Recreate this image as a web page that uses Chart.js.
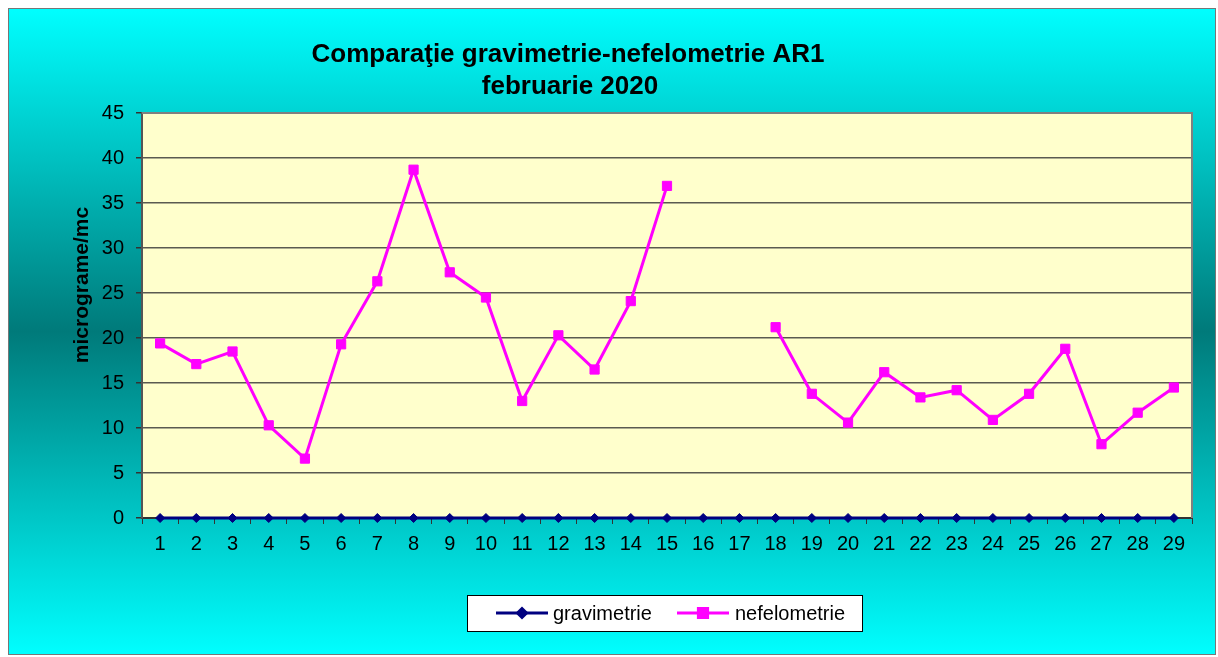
<!DOCTYPE html>
<html lang="ro">
<head>
<meta charset="UTF-8">
<title>Comparatie gravimetrie-nefelometrie AR1</title>
<script src="https://cdn.jsdelivr.net/npm/chart.js"></script>
<style>
    body { margin: 0; background: #fff; }
</style>
</head>
<body>
<canvas id="myChart" width="1218" height="657"></canvas>
<script>
// data
const days = ['1', '2', '3', '4', '5', '6', '7', '8', '9', '10', '11', '12', '13', '14', '15',
    '16', '17', '18', '19', '20', '21', '22', '23', '24', '25', '26', '27', '28', '29'];
const gravimetrie = [0, 0, 0, 0, 0, 0, 0, 0, 0, 0, 0, 0, 0, 0, 0,
    0, 0, 0, 0, 0, 0, 0, 0, 0, 0, 0, 0, 0, 0];
const nefelometrie = [19.4, 17.1, 18.5, 10.3, 6.6, 19.3, 26.3, 38.7, 27.3, 24.5, 13.0, 20.3, 16.5, 24.1, 36.9,
    null, null, 21.2, 13.8, 10.6, 16.2, 13.4, 14.2, 10.9, 13.8, 18.8, 8.2, 11.7, 14.5];
const yTicks = [0, 5, 10, 15, 20, 25, 30, 35, 40, 45];
const titleLines = ['Comparaţie gravimetrie-nefelometrie AR1', 'februarie 2020'];
const yTitle = 'micrograme/mc';

const FONT = '"Liberation Sans", Arial, sans-serif';

// background, frame, plot area, title, axis title and boxed legend
const excelLook = {
    id: 'excelLook',
    beforeDraw(chart) {
        const ctx = chart.ctx, a = chart.chartArea;
        const W = chart.width, H = chart.height;
        ctx.save();
        ctx.fillStyle = '#fff';
        ctx.fillRect(0, 0, W, H);
        let g = ctx.createLinearGradient(0, 8, 0, 655);
        g.addColorStop(0, '#00ffff');
        g.addColorStop(0.5, '#007a7a');
        g.addColorStop(1, '#00ffff');
        ctx.fillStyle = g;
        ctx.fillRect(8, 8, 1208, 647);
        ctx.strokeStyle = '#777';
        ctx.lineWidth = 1;
        ctx.strokeRect(8.5, 8.5, 1207, 646);
        ctx.fillStyle = '#ffffcc';
        ctx.fillRect(a.left, a.top, a.right - a.left, a.bottom - a.top);
        ctx.restore();
    },
    beforeDatasetsDraw(chart) {
        const ctx = chart.ctx, a = chart.chartArea;
        ctx.save();
        ctx.strokeStyle = '#808080';
        ctx.lineWidth = 2;
        ctx.beginPath();
        ctx.moveTo(a.left, a.top);
        ctx.lineTo(a.right, a.top);
        ctx.lineTo(a.right, a.bottom);
        ctx.stroke();
        ctx.restore();
    },
    afterDraw(chart) {
        const ctx = chart.ctx;
        ctx.save();
        ctx.fillStyle = '#000';
        ctx.textAlign = 'center';
        ctx.textBaseline = 'middle';
        ctx.font = 'bold 26px ' + FONT;
        ctx.fillText(titleLines[0], 568, 55);
        ctx.fillText(titleLines[1], 570, 87);

        ctx.translate(82, 285);
        ctx.rotate(-Math.PI / 2);
        ctx.font = 'bold 21px ' + FONT;
        ctx.fillText(yTitle, 0, 0);
        ctx.restore();

        // legend
        ctx.save();
        ctx.fillStyle = '#fff';
        ctx.fillRect(467, 595, 395, 36);
        ctx.strokeStyle = '#000';
        ctx.lineWidth = 1;
        ctx.strokeRect(467.5, 595.5, 395, 36);
        const items = [[496, 553], [677, 735]];
        chart.data.datasets.forEach((ds, i) => {
            const [lx, tx] = items[i];
            const y = 613;
            ctx.strokeStyle = ds.borderColor;
            ctx.lineWidth = 3;
            ctx.beginPath();
            ctx.moveTo(lx, y);
            ctx.lineTo(lx + 52, y);
            ctx.stroke();
            Chart.helpers.drawPoint(ctx, {
                pointStyle: ds.pointStyle, radius: ds.pointRadius,
                borderWidth: 1
            }, lx + 26, y);
            ctx.fillStyle = ds.pointBackgroundColor;
            ctx.fill();
            ctx.fillStyle = '#000';
            ctx.font = '20px ' + FONT;
            ctx.textAlign = 'left';
            ctx.textBaseline = 'middle';
            ctx.fillText(ds.label, tx, y + 1);
        });
        ctx.restore();
    }
};

new Chart('myChart', {
    type: 'line',
    data: {
        labels: days,
        datasets: [
            {
                label: 'gravimetrie',
                data: gravimetrie,
                borderColor: '#000080',
                backgroundColor: '#000080',
                pointBackgroundColor: '#000080',
                pointBorderColor: '#000080',
                borderWidth: 3,
                pointStyle: 'rectRot',
                pointRadius: 4.5,
                pointBorderWidth: 1,
                tension: 0,
                clip: false
            },
            {
                label: 'nefelometrie',
                data: nefelometrie,
                borderColor: '#ff00ff',
                backgroundColor: '#ff00ff',
                pointBackgroundColor: '#ff00ff',
                pointBorderColor: '#ff00ff',
                borderWidth: 3,
                pointStyle: 'rect',
                pointRadius: 6.5,
                pointBorderWidth: 1,
                tension: 0,
                spanGaps: false,
                clip: false
            }
        ]
    },
    options: {
        responsive: false,
        animation: false,
        events: [],
        layout: { padding: { left: 0, right: 26, top: 113, bottom: 99 } },
        plugins: {
            legend: { display: false },
            title: { display: false },
            tooltip: { enabled: false }
        },
        scales: {
            x: {
                offset: true,
                grid: { display: true, drawOnChartArea: false, drawTicks: true, tickLength: 6, offset: true, color: '#333', lineWidth: 1 },
                border: { display: true, color: '#333', width: 2 },
                ticks: { color: '#000', font: { family: FONT, size: 20 }, padding: 8, maxRotation: 0, autoSkip: false },
                afterFit(s) { s.height = 40; }
            },
            y: {
                min: 0,
                max: 45,
                afterBuildTicks(s) { s.ticks = yTicks.map(v => ({ value: v })); },
                grid: { color: '#5a5a50', lineWidth: 1.5, tickLength: 6, tickColor: '#333' },
                border: { display: true, color: '#555', width: 2 },
                ticks: { color: '#000', font: { family: FONT, size: 20 }, padding: 12 },
                afterFit(s) { s.width = 142; }
            }
        }
    },
    plugins: [excelLook]
});
</script>
</body>
</html>
